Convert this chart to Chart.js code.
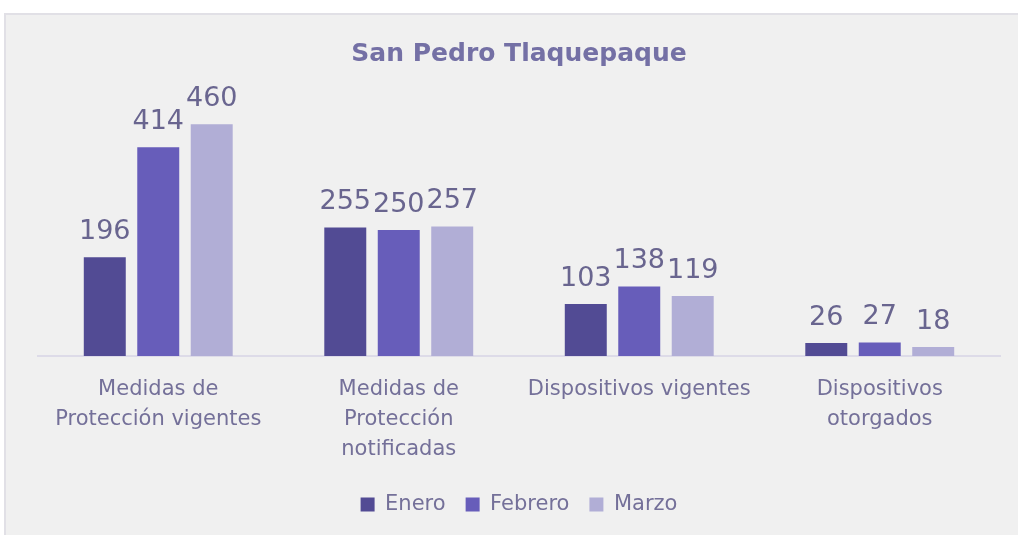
<!DOCTYPE html>
<html>
<head>
<meta charset="utf-8">
<script src="https://cdn.jsdelivr.net/npm/chart.js@4.4.1/dist/chart.umd.min.js"></script>
<style>
  html, body { margin: 0; padding: 0; background: #ffffff; }
  body { width: 1018px; height: 535px; position: relative; overflow: hidden; }
  #panel { position: absolute; left: 4px; top: 13px; right: 0; bottom: 0;
           background: #f0f0f0; border-top: 2px solid #e1e0e6; border-left: 2px solid #e1e0e6; }
  #wrap { position: absolute; left: 0; top: 0; width: 1018px; height: 535px; }
</style>
</head>
<body>
<div id="panel"></div>
<div id="wrap"><canvas id="chart"></canvas></div>
<script>
/* ── DATA ── */
const CATEGORIES = [
  ['Medidas de', 'Protección vigentes'],
  ['Medidas de', 'Protección', 'notificadas'],
  'Dispositivos vigentes',
  ['Dispositivos', 'otorgados']
];
const SERIES = ['Enero', 'Febrero', 'Marzo'];
const ENERO = [196, 255, 103, 26];
const FEBRERO = [414, 250, 138, 27];
const MARZO = [460, 257, 119, 18];
const COLORS = ['#524b94', '#675dba', '#b1aed6'];

const TEXT = '#747099';
const FONT = "'DejaVu Sans', sans-serif";

/* ── VALUE LABELS ── */
const valueLabels = {
  id: 'valueLabels',
  afterDatasetsDraw(chart) {
    const ctx = chart.ctx;
    ctx.save();
    ctx.font = `400 27px ${FONT}`;
    ctx.fillStyle = '#69658f';
    ctx.textAlign = 'center';
    ctx.textBaseline = 'alphabetic';
    chart.data.datasets.forEach((ds, i) => {
      chart.getDatasetMeta(i).data.forEach((bar, j) => {
        ctx.fillText(ds.data[j], bar.x, bar.y - 18);
      });
    });
    ctx.restore();
  }
};

new Chart(document.getElementById('chart'), {
  type: 'bar',
  data: {
    labels: CATEGORIES,
    datasets: [ENERO, FEBRERO, MARZO].map((d, i) => ({
      label: SERIES[i],
      data: d,
      backgroundColor: COLORS[i],
      categoryPercentage: 0.667,
      barPercentage: 0.785
    }))
  },
  options: {
    responsive: true,
    maintainAspectRatio: false,
    animation: false,
    layout: { padding: { left: 38, right: 18, top: 0, bottom: 10 } },
    plugins: {
      title: {
        display: true,
        text: 'San Pedro Tlaquepaque',
        color: '#7470a5',
        font: { family: FONT, size: 25, weight: 'bold', lineHeight: 1.2 },
        padding: { top: 39, bottom: 35 }
      },
      legend: {
        position: 'bottom',
        labels: {
          color: TEXT,
          font: { family: FONT, size: 21 },
          boxWidth: 14,
          boxHeight: 14,
          padding: 20
        }
      },
      tooltip: { enabled: false }
    },
    scales: {
      y: { display: false, min: 0, max: 500 },
      x: {
        grid: { display: false, drawTicks: false },
        border: { display: true, color: '#dddbe8', width: 2 },
        ticks: {
          color: TEXT,
          font: { family: FONT, size: 21, lineHeight: 30 / 21 },
          padding: 19,
          maxRotation: 0,
          autoSkip: false
        },
        afterFit: s => { s.height = 118; }
      }
    }
  },
  plugins: [valueLabels]
});
</script>
</body>
</html>
